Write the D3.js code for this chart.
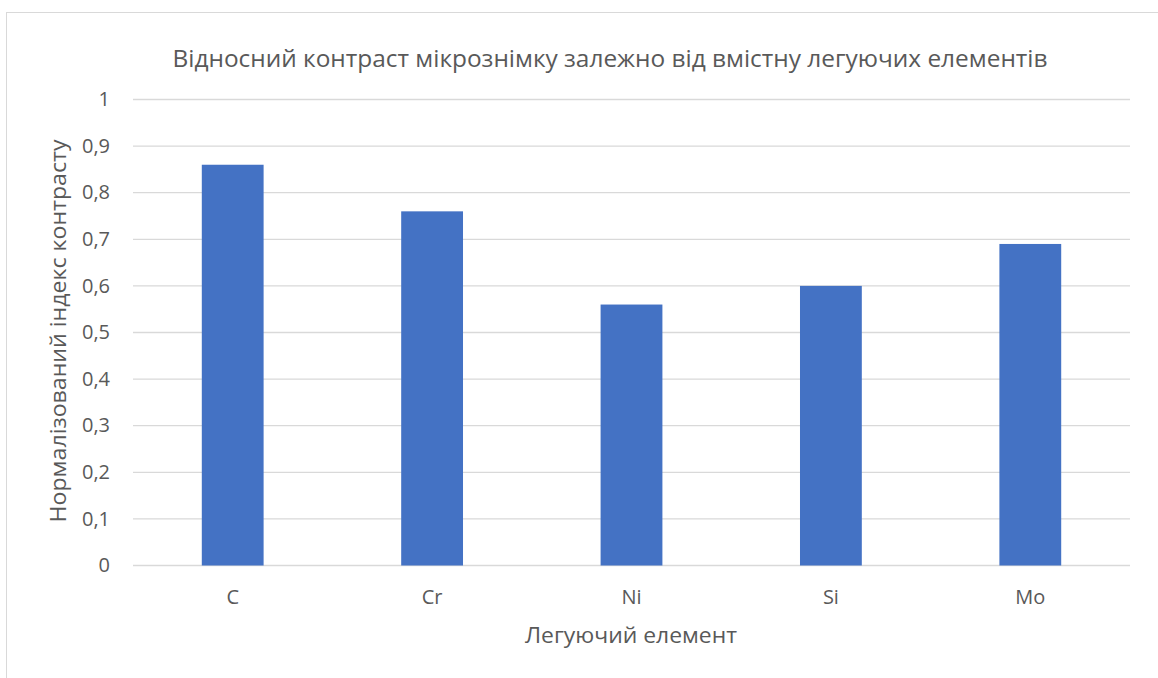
<!DOCTYPE html>
<html>
<head>
<meta charset="utf-8">
<script src="https://cdn.jsdelivr.net/npm/d3@7"></script>
<style>
  body { margin: 0; background: #fff; }
  text { font-family: "Open Sans", "Noto Sans", sans-serif; fill: #595959; }
</style>
</head>
<body>
<div id="vis"></div>
<script>
const elements = ["C", "Cr", "Ni", "Si", "Mo"];
const contrast = [0.86, 0.76, 0.56, 0.60, 0.69];
const yTicks = [0, 0.1, 0.2, 0.3, 0.4, 0.5, 0.6, 0.7, 0.8, 0.9, 1];

const width = 1158, height = 678;
const svg = d3.select("#vis")
    .append("svg")
    .attr("width", width)
    .attr("height", height);

// chart frame
svg.append("rect")
    .attr("x", 6.5)
    .attr("y", 12.5)
    .attr("width", width + 20)
    .attr("height", height + 20)
    .attr("fill", "#fff")
    .attr("stroke", "#d9d9d9");

const plotLeft = 133, plotRight = 1130, plotTop = 99.5, plotBottom = 565.5;

const x = d3.scaleBand()
    .domain(elements)
    .range([plotLeft, plotRight])
    .paddingInner(0.69)
    .paddingOuter(0.345);

const y = d3.scaleLinear()
    .domain([0, 1])
    .range([plotBottom, plotTop]);

// gridlines
svg.append("g")
    .selectAll("line")
    .data(yTicks)
    .enter()
    .append("line")
    .attr("x1", plotLeft)
    .attr("x2", plotRight)
    .attr("y1", d => y(d))
    .attr("y2", d => y(d))
    .attr("stroke", "#d9d9d9")
    .attr("stroke-width", 1.3);

// bars
svg.append("g")
    .selectAll("rect")
    .data(elements)
    .enter()
    .append("rect")
    .attr("x", d => x(d))
    .attr("width", x.bandwidth())
    .attr("y", (d, i) => y(contrast[i]))
    .attr("height", (d, i) => y(0) - y(contrast[i]))
    .attr("fill", "#4472c4");

// y tick labels
const fmt = d => String(d).replace(".", ",");
svg.append("g")
    .selectAll("text")
    .data(yTicks)
    .enter()
    .append("text")
    .attr("x", 110)
    .attr("y", d => y(d))
    .attr("dy", "0.33em")
    .attr("text-anchor", "end")
    .style("font-size", "20px")
    .text(fmt);

// x tick labels
svg.append("g")
    .selectAll("text")
    .data(elements)
    .enter()
    .append("text")
    .attr("x", d => x(d) + x.bandwidth() / 2)
    .attr("y", 604)
    .attr("text-anchor", "middle")
    .style("font-size", "20px")
    .text(d => d);

// title
svg.append("text")
    .attr("x", 610)
    .attr("y", 67)
    .attr("text-anchor", "middle")
    .attr("textLength", 875)
    .attr("lengthAdjust", "spacingAndGlyphs")
    .style("font-size", "23px")
    .text("Відносний контраст мікрознімку залежно від вмістну легуючих елементів");

// axis titles
svg.append("text")
    .attr("x", 631)
    .attr("y", 643)
    .attr("text-anchor", "middle")
    .attr("textLength", 212)
    .attr("lengthAdjust", "spacingAndGlyphs")
    .style("font-size", "21px")
    .text("Легуючий елемент");

svg.append("text")
    .attr("transform", "translate(66,331) rotate(-90)")
    .attr("text-anchor", "middle")
    .attr("textLength", 383)
    .attr("lengthAdjust", "spacingAndGlyphs")
    .style("font-size", "22px")
    .text("Нормалізований індекс контрасту");
</script>
</body>
</html>
